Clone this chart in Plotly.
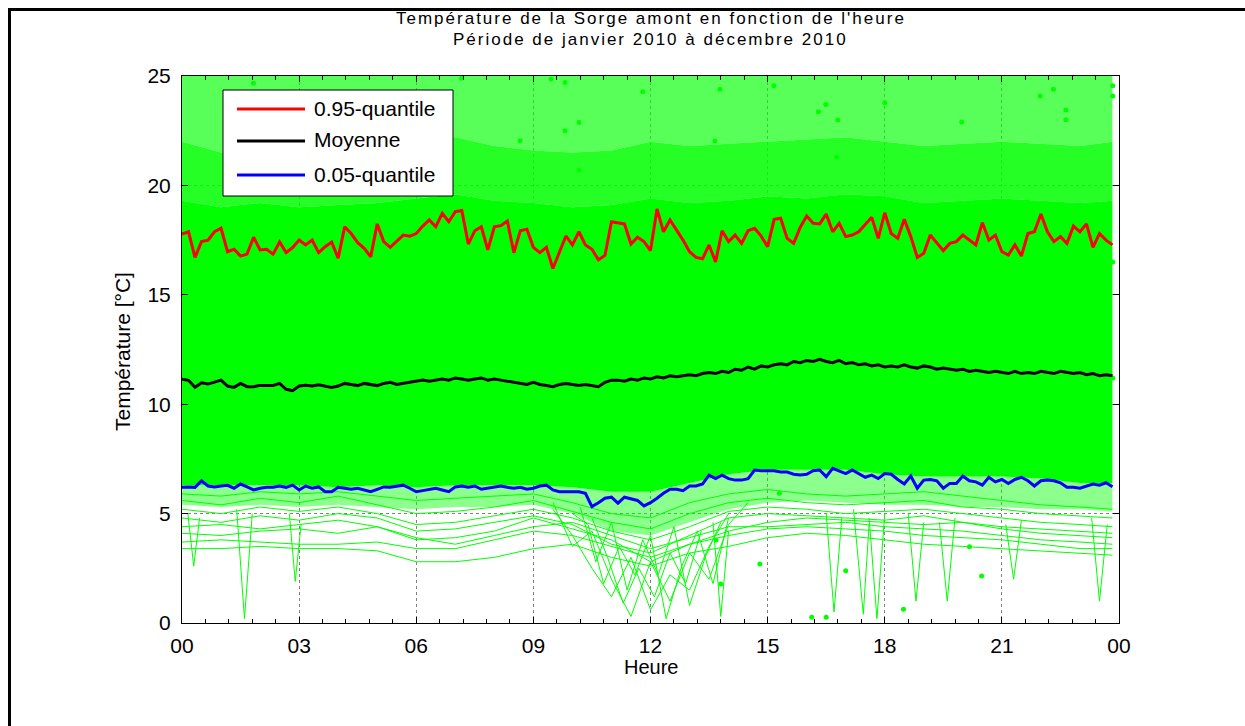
import plotly.graph_objects as go

# ---------------- data ----------------
heures = [i / 6 for i in range(144)]  # 10-minute steps, 00:00 .. 23:50

q95 = [17.78,17.88,16.71,17.43,17.5,17.88,18.04,16.97,17.08,16.77,
       16.86,17.63,17.05,17.08,16.86,17.41,16.93,17.16,17.5,17.28,
       17.5,16.93,17.2,17.41,16.67,18.11,17.8,17.38,17.12,16.74,
       18.24,17.43,17.17,17.43,17.73,17.68,17.8,18.14,18.42,18.11,
       18.72,18.34,18.8,18.85,17.32,17.93,18.11,17.05,
       18.11,18.16,18.37,16.92,17.93,18.0,17.17,16.93,17.17,16.2,
       16.97,17.69,17.28,17.88,17.28,17.08,16.6,16.8,18.34,18.3,
       18.24,17.32,17.63,17.43,17.02,18.92,17.88,18.42,17.96,17.5,
       16.97,16.71,16.65,17.28,16.5,17.93,17.43,17.73,17.35,17.93,
       18.04,17.68,17.2,18.45,18.5,17.58,17.35,18.08,18.6,
       18.27,18.24,18.69,17.88,18.27,17.66,17.73,17.88,18.19,18.54,
       17.58,18.75,17.8,17.58,18.45,17.66,16.71,16.9,17.73,17.38,
       17.02,17.35,17.43,17.73,17.5,17.28,18.3,17.5,17.73,16.97,
       16.82,17.28,16.77,17.8,17.88,18.69,17.88,17.43,17.66,17.35,
       18.14,17.88,18.24,17.17,17.8,17.5,17.28]

moyenne = [11.14,11.09,10.77,10.98,10.92,11.01,11.10,10.83,10.77,10.95,
           10.80,10.80,10.86,10.86,10.86,10.95,10.68,10.62,10.83,10.86,
           10.83,10.89,10.83,10.77,10.83,10.95,
           10.9,10.85,10.95,10.9,10.85,10.95,11.0,10.9,10.95,11.0,11.05,
           11.1,11.05,11.1,11.15,11.1,11.2,11.15,11.1,11.15,11.2,11.1,11.15,11.1,11.05,
           11.0,10.95,10.9,11.0,10.9,10.85,10.8,10.9,10.95,10.9,10.85,10.9,10.85,10.8,11.0,11.1,
           11.1,11.05,11.15,11.1,11.2,11.15,11.25,11.2,11.3,11.25,11.3,11.35,11.3,11.4,
           11.45,11.4,11.5,11.45,11.6,11.55,11.7,11.6,11.75,11.7,11.8,11.85,11.8,11.95,11.9,
           12.0,11.95,12.05,11.95,11.9,12.0,11.85,11.9,11.8,11.85,11.75,11.8,11.7,
           11.75,11.7,11.8,11.7,11.65,11.75,11.7,11.6,11.65,11.6,11.55,11.6,11.5,11.55,11.5,11.45,11.5,
           11.45,11.4,11.5,11.4,11.45,11.4,11.5,11.45,11.4,11.5,11.45,11.4,11.45,11.35,11.4,11.3,11.35,11.3]

q05 = [6.2,6.22,6.2,6.5,6.26,6.22,6.26,6.29,6.16,6.35,6.22,6.08,6.16,6.2,6.2,6.26,
       6.2,6.3,6.08,6.26,6.16,6.22,6.0,6.0,6.2,6.16,6.11,6.16,6.08,6.0,6.11,6.22,
       6.2,6.26,6.3,6.16,6.0,6.05,6.11,6.16,6.08,6.0,6.22,6.26,6.2,6.26,
       6.11,6.16,6.22,6.26,6.2,6.16,6.2,6.11,6.16,6.26,6.3,6.08,6.0,6.0,6.0,6.0,
       5.93,5.32,5.5,5.7,5.75,5.48,5.75,5.66,5.6,5.35,5.5,5.7,5.93,6.11,6.11,6.05,
       6.26,6.26,6.35,6.76,6.6,6.76,6.6,6.53,6.53,6.6,6.99,6.96,6.96,6.96,6.9,6.9,
       6.8,6.76,6.8,
       6.96,6.99,6.69,7.07,6.96,6.83,6.99,6.83,6.66,6.76,6.6,6.83,6.8,6.56,6.35,6.72,
       6.16,6.53,6.56,6.5,6.16,6.38,6.38,6.72,6.5,6.45,6.3,6.66,6.45,6.56,6.38,6.56,
       6.66,6.5,6.26,6.5,6.53,6.5,6.41,6.2,6.2,6.16,6.26,6.35,6.3,6.41,6.23]

# hourly envelope of the mass of daily curves (green)
h25 = [0,1,2,3,4,5,6,7,8,9,10,11,12,13,14,15,16,17,18,19,20,21,22,23,23.83]
band_faint_low = [5.4,5.3,5.4,5.3,5.4,5.3,5.2,5.3,5.3,5.4,5.0,4.2,4.0,4.6,5.2,5.5,5.6,5.5,5.4,5.4,5.3,5.3,5.2,5.2,5.1]
band_dense_low = [6.3,6.3,6.3,6.3,6.2,6.3,6.2,6.3,6.3,6.3,6.2,6.0,6.0,6.4,6.8,7.0,7.0,7.0,6.8,6.7,6.7,6.7,6.6,6.4,6.4]
band_dense_high = [19.3,19.0,19.2,19.0,19.1,19.2,19.4,19.6,19.3,19.2,19.0,19.1,19.4,19.2,19.3,19.5,19.4,19.6,19.5,19.2,19.3,19.4,19.3,19.2,19.3]
band_mid_high = [22.0,21.5,21.8,21.6,21.7,21.8,22.0,22.2,21.8,21.6,21.5,21.6,22.0,21.8,21.9,22.0,22.1,22.2,22.0,21.8,21.9,22.0,21.9,21.8,22.0]
band_top = [25,25,25,25,25,25,25,25,25,25,25,25,25,25,25,25,25,25,25,25,25,25,25,25,25]

# a few of the low daily curves, hourly
low_curves = [
    [3.4,3.4,3.5,3.4,3.4,3.3,2.8,2.8,3.0,3.4,3.6,3.0,2.6,3.2,3.5,3.9,4.1,4.0,3.8,3.6,3.5,3.4,3.3,3.2,3.1],
    [3.7,3.8,3.7,3.6,3.6,3.7,3.4,3.4,3.8,4.2,4.0,3.5,3.0,3.6,4.0,4.3,4.4,4.3,4.2,4.0,3.9,3.8,3.6,3.4,3.4],
    [4.1,4.0,4.2,4.3,4.1,4.4,3.9,3.6,4.0,4.4,4.6,4.0,3.4,3.9,4.4,4.4,4.5,4.6,4.4,4.3,4.2,4.0,3.8,3.7,3.6],
    [4.4,4.5,4.3,4.5,4.7,4.4,3.8,3.9,4.2,4.8,4.3,3.8,2.8,3.6,4.2,4.6,4.8,4.7,4.6,4.5,4.6,4.3,4.1,4.0,3.9],
    [4.8,4.6,4.9,4.7,5.0,4.8,4.2,4.3,4.6,4.9,4.5,3.6,3.2,4.0,4.8,5.0,4.9,4.8,4.7,4.9,4.6,4.4,4.3,4.2,4.1],
    [5.2,5.0,5.3,5.1,5.3,5.0,4.5,4.6,4.9,5.2,4.8,4.2,3.8,4.4,5.1,5.3,5.2,5.0,5.1,5.2,5.0,4.8,4.6,4.5,4.4],
    [5.6,5.4,5.7,5.5,5.8,5.4,5.0,5.1,5.3,5.6,5.1,4.6,4.3,5.0,5.5,5.7,5.5,5.4,5.5,5.6,5.3,5.2,5.0,4.9,4.8],
    [5.9,5.8,6.0,5.9,6.0,5.8,5.6,5.7,5.8,5.9,5.5,5.0,4.8,5.5,5.9,6.1,5.9,5.8,5.9,6.0,5.8,5.6,5.4,5.3,5.2],
]

# short dips of individual days (hour, value)
spikes_h = [
    [0.15,0.3,0.45], [1.4,1.6,1.8], [2.75,2.9,3.05],
    [9.5,10,10.5,11,11.5,12,12.5,13,13.5,14],
    [9.5,10,10.5,11,11.5,12,12.5,13,13.5,14,14.5],
    [10,10.4,10.8,11.2,11.6,12,12.4,12.8,13.2,13.6,14],
    [10.2,10.6,11,11.4,11.8,12.2,12.6,13,13.4,13.8],
    [10.5,10.9,11.3,11.7,12.1,12.5,12.9,13.3],
    [13.6,13.8,14.0], [16.5,16.7,16.9], [17.2,17.45,17.6], [17.6,17.8,18.0],
    [18.6,18.8,19.0], [19.4,19.6,19.8], [21.1,21.3,21.5], [23.3,23.5,23.7],
]
spikes_v = [
    [5.0,2.6,4.8], [5.2,0.2,5.0], [5.0,1.9,4.5],
    [5.2,4.0,2.5,1.2,3.0,0.6,2.2,1.5,3.5,5.0],
    [5.5,3.5,4.2,2.0,0.3,2.8,1.0,3.2,2.0,4.5,5.5],
    [5.0,4.5,1.8,3.5,2.2,4.0,0.2,2.6,4.2,1.8,4.8],
    [5.3,2.8,4.6,1.5,3.8,2.2,4.4,0.8,3.0,4.6],
    [4.8,3.0,0.9,2.5,1.2,3.2,1.8,4.2],
    [4.6,0.3,4.2], [5.0,0.5,4.8], [5.2,0.4,4.5], [4.8,0.2,5.0],
    [5.0,1.0,4.6], [4.6,1.0,4.8], [4.5,2.0,4.7], [4.8,1.0,4.5],
]

# isolated measurement points
pts_h = [1.83,7.16,9.45,9.81,11.8,10.17,9.81,8.66,13.78,13.65,15.16,16.3,10.17,
         16.49,16.8,18.0,19.97,21.98,22.32,22.64,22.64,23.84,23.84,16.77,
         13.68,13.8,14.8,16.13,15.3,16.5,17.0,18.48,20.17,20.48,23.84,23.84]
pts_v = [24.67,24.9,24.86,24.7,24.28,22.88,22.5,22.04,24.4,22.03,24.56,23.37,20.7,
         23.7,22.99,23.78,22.9,24.09,24.39,23.45,23.0,24.56,24.09,21.3,
         3.79,1.78,2.7,0.26,5.93,0.26,2.39,0.63,3.49,2.15,16.5,11.2]

xtick_vals = [0, 3, 6, 9, 12, 15, 18, 21, 24]
xtick_text = ["00", "03", "06", "09", "12", "15", "18", "21", "00"]

# ---------------- figure ----------------
GREEN = "#00FF00"
W, H = 1245, 726
L, R, T, B = 182, 126, 76, 103
PW, PH = W - L - R, H - T - B

def px(x):
    return (x - L) / PW

def py(y):
    return (H - B - y) / PH

fig = go.Figure()

bands = [
    (band_faint_low, None),
    (band_dense_low, "rgba(0,255,0,0.45)"),
    (band_dense_high, GREEN),
    (band_mid_high, "rgba(0,255,0,0.85)"),
    (band_top, "rgba(0,255,0,0.65)"),
]
for vals, fc in bands:
    fig.add_trace(go.Scatter(
        x=h25, y=vals, mode="lines", line=dict(width=0, color=GREEN),
        fill=None if fc is None else "tonexty", fillcolor=fc,
        hoverinfo="skip", showlegend=False))

for c in low_curves:
    fig.add_trace(go.Scatter(x=h25, y=c, mode="lines",
                             line=dict(color=GREEN, width=1),
                             hoverinfo="skip", showlegend=False))
for hx, vy in zip(spikes_h, spikes_v):
    fig.add_trace(go.Scatter(x=hx, y=vy, mode="lines",
                             line=dict(color=GREEN, width=1),
                             hoverinfo="skip", showlegend=False))

fig.add_trace(go.Scatter(x=pts_h, y=pts_v, mode="markers",
                         marker=dict(color=GREEN, size=5),
                         hoverinfo="skip", showlegend=False))

fig.add_trace(go.Scatter(x=heures, y=q95, mode="lines", name="0.95-quantile",
                         line=dict(color="#FF0000", width=3), showlegend=False))
fig.add_trace(go.Scatter(x=heures, y=moyenne, mode="lines", name="Moyenne",
                         line=dict(color="#000000", width=3), showlegend=False))
fig.add_trace(go.Scatter(x=heures, y=q05, mode="lines", name="0.05-quantile",
                         line=dict(color="#0000FF", width=3), showlegend=False))

FONT = "Liberation Sans, Arial, sans-serif"
axis_common = dict(
    showline=True, linecolor="black", linewidth=1, mirror="ticks",
    ticks="inside", ticklen=6, tickcolor="black", tickwidth=1,
    showgrid=True, gridcolor="#808080", griddash="dot", gridwidth=1,
    zeroline=False, tickfont=dict(family=FONT, size=21, color="black"),
)
fig.update_xaxes(range=[0, 24], tickvals=xtick_vals, ticktext=xtick_text,
                 minor=dict(dtick=0.6, tick0=0, ticks="inside", ticklen=4,
                            tickcolor="black", showgrid=False),
                 ticklabelstandoff=4, **axis_common)
fig.update_yaxes(range=[0, 25], tickvals=[0, 5, 10, 15, 20, 25],
                 ticklabelstandoff=6, **axis_common)

shapes = []
# figure frame (only top and left edges are inside the picture)
shapes.append(dict(type="line", xref="paper", yref="paper",
                   x0=px(9.5), x1=px(1245), y0=py(9.5), y1=py(9.5),
                   line=dict(color="black", width=3), layer="above"))
shapes.append(dict(type="line", xref="paper", yref="paper",
                   x0=px(9.5), x1=px(9.5), y0=py(8), y1=py(726),
                   line=dict(color="black", width=3), layer="above"))
# legend box
shapes.append(dict(type="rect", xref="paper", yref="paper",
                   x0=px(223), x1=px(453), y0=py(196), y1=py(90),
                   line=dict(color="black", width=1), fillcolor="white", layer="above"))
leg = [("0.95-quantile", "#FF0000", 109), ("Moyenne", "#000000", 141), ("0.05-quantile", "#0000FF", 175)]
annotations = []
for txt, col, yy in leg:
    shapes.append(dict(type="line", xref="paper", yref="paper",
                       x0=px(237), x1=px(305), y0=py(yy), y1=py(yy),
                       line=dict(color=col, width=3), layer="above"))
    annotations.append(dict(xref="paper", yref="paper", x=px(312), y=py(yy - 1),
                            text=txt, showarrow=False, xanchor="left", yanchor="middle",
                            font=dict(family=FONT, size=21, color="black")))

sp = '<span style="letter-spacing:2px">%s</span>'
annotations.append(dict(xref="paper", yref="paper", x=0.5, y=py(18),
                        text=sp % "Température de la Sorge amont en fonction de l'heure",
                        showarrow=False, xanchor="center", yanchor="middle",
                        font=dict(family=FONT, size=17, color="black")))
annotations.append(dict(xref="paper", yref="paper", x=0.5, y=py(40),
                        text=sp % "Période de janvier 2010 à décembre 2010",
                        showarrow=False, xanchor="center", yanchor="middle",
                        font=dict(family=FONT, size=17, color="black")))
annotations.append(dict(xref="paper", yref="paper", x=0.5, y=py(667),
                        text="Heure", showarrow=False, xanchor="center", yanchor="middle",
                        font=dict(family=FONT, size=20, color="black")))
annotations.append(dict(xref="paper", yref="paper", x=px(122), y=py(352),
                        text="Température [°C]", showarrow=False, textangle=-90,
                        xanchor="center", yanchor="middle",
                        font=dict(family=FONT, size=21, color="black")))

fig.update_layout(
    width=W, height=H, autosize=False,
    margin=dict(l=L, r=R, t=T, b=B),
    paper_bgcolor="white", plot_bgcolor="white",
    showlegend=False, shapes=shapes, annotations=annotations,
)

fig.write_html("out.html")
